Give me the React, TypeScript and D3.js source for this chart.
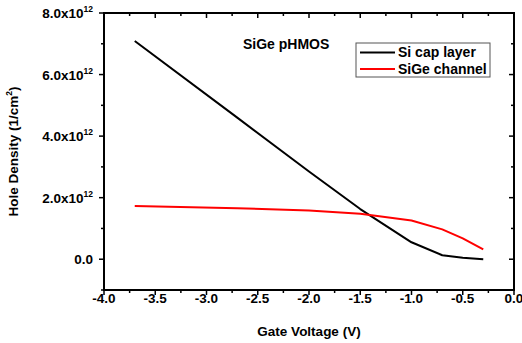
import React, { useEffect, useRef } from 'react';
import * as d3 from 'd3';

// gate voltage (V)
const voltage = [-3.7, -2.7, -2.0, -1.5, -1.0, -0.7, -0.5, -0.3];
// hole density, units of 1e12 /cm^2
const siCap = [7.09, 4.6, 2.85, 1.63, 0.55, 0.13, 0.05, 0.0];
const sigeChannel = [1.73, 1.66, 1.58, 1.48, 1.26, 0.97, 0.68, 0.32];

const xTicks = [-4.0, -3.5, -3.0, -2.5, -2.0, -1.5, -1.0, -0.5, 0.0];
const yTicks = [0, 2, 4, 6, 8];

const series = [
  { name: 'Si cap layer', color: '#000000', values: siCap },
  { name: 'SiGe channel', color: '#ff0000', values: sigeChannel },
];

const FONT = '"Liberation Sans", Arial, sans-serif';

const App = () => {
  const ref = useRef<SVGSVGElement>(null);

  useEffect(() => {
    const width = 522;
    const height = 343;
    const m = { left: 104, right: 8, top: 13, bottom: 53 };

    const svg = d3.select(ref.current);
    svg.selectAll('*').remove();
    svg.attr('width', width).attr('height', height);

    const x = d3.scaleLinear().domain([-4, 0]).range([m.left, width - m.right]);
    const y = d3.scaleLinear().domain([-1, 8]).range([height - m.bottom, m.top]);

    const [x0, x1] = x.range();
    const [y0, y1] = y.range();

    const g = svg.append('g');

    // ticks
    const minorX = d3.range(-4, 0.001, 0.25);
    const minorY = d3.range(-1, 8.001, 1);
    const tick = (ax: number, ay: number, bx: number, by: number) =>
      g.append('line')
        .attr('x1', ax).attr('y1', ay).attr('x2', bx).attr('y2', by)
        .attr('stroke', '#000').attr('stroke-width', 1.5);

    minorX.forEach(v => {
      const major = xTicks.some(t => Math.abs(t - v) < 1e-6);
      const len = major ? 5 : 3;
      tick(x(v), y0, x(v), y0 + len);
      tick(x(v), y1, x(v), y1 + len);
    });
    minorY.forEach(v => {
      const major = yTicks.includes(v);
      const len = major ? 5 : 3;
      tick(x0, y(v), x0 - len, y(v));
      tick(x1, y(v), x1 - len, y(v));
    });

    // frame
    g.append('rect')
      .attr('x', x0).attr('y', y1)
      .attr('width', x1 - x0).attr('height', y0 - y1)
      .attr('fill', 'none').attr('stroke', '#000').attr('stroke-width', 2);

    // x tick labels
    g.append('g')
      .selectAll('text')
      .data(xTicks)
      .join('text')
      .attr('x', d => x(d))
      .attr('y', y0 + 13)
      .attr('text-anchor', 'middle')
      .attr('font-family', FONT)
      .attr('font-weight', 700)
      .attr('font-size', 13.5)
      .text(d => d.toFixed(1));

    // y tick labels
    const yl = g.append('g')
      .selectAll('text')
      .data(yTicks)
      .join('text')
      .attr('x', x0 - 11)
      .attr('y', d => y(d) + 5)
      .attr('text-anchor', 'end')
      .attr('font-family', FONT)
      .attr('font-weight', 700)
      .attr('font-size', 13.5);
    yl.each(function (d) {
      const t = d3.select(this);
      if (d === 0) {
        t.text('0.0');
      } else {
        t.append('tspan').text(`${d.toFixed(1)}x10`);
        t.append('tspan').attr('dy', -6).attr('font-size', 8.5).text('12');
      }
    });

    // axis titles
    g.append('text')
      .attr('x', (x0 + x1) / 2)
      .attr('y', 336)
      .attr('text-anchor', 'middle')
      .attr('font-family', FONT)
      .attr('font-weight', 700)
      .attr('font-size', 13.5)
      .text('Gate Voltage (V)');

    const yt = g.append('text')
      .attr('transform', `translate(18, ${(y0 + y1) / 2}) rotate(-90)`)
      .attr('text-anchor', 'middle')
      .attr('font-family', FONT)
      .attr('font-weight', 700)
      .attr('font-size', 13.5);
    yt.append('tspan').text('Hole Density (1/cm');
    yt.append('tspan').attr('dy', -6).attr('font-size', 8.5).text('2');
    yt.append('tspan').attr('dy', 6).text(')');

    // lines
    const line = d3.line<number>()
      .x((_, i) => x(voltage[i]))
      .y(d => y(d));

    series.forEach(s => {
      g.append('path')
        .datum(s.values)
        .attr('d', line)
        .attr('fill', 'none')
        .attr('stroke', s.color)
        .attr('stroke-width', 2)
        .attr('stroke-linejoin', 'round');
    });

    // annotation
    g.append('text')
      .attr('x', 243)
      .attr('y', 49)
      .attr('font-family', FONT)
      .attr('font-weight', 700)
      .attr('font-size', 14)
      .text('SiGe pHMOS');

    // legend
    const lg = g.append('g').attr('transform', 'translate(356, 43)');
    lg.append('rect')
      .attr('width', 134).attr('height', 34)
      .attr('fill', '#fff').attr('stroke', '#555').attr('stroke-width', 1);
    const items = lg.selectAll('.legend-item')
      .data(series)
      .join('g')
      .attr('class', 'legend-item')
      .attr('transform', (d, i) => `translate(0, ${9.5 + i * 16.5})`);
    items.append('line')
      .attr('x1', 4).attr('x2', 39)
      .attr('stroke', d => d.color).attr('stroke-width', 2);
    items.append('text')
      .attr('x', 42)
      .attr('y', 4.5)
      .attr('font-family', FONT)
      .attr('font-weight', 700)
      .attr('font-size', 14)
      .text(d => d.name);
  }, []);

  return (
    <svg ref={ref} style={{ position: 'absolute', left: 0, top: 0, background: '#fff' }} />
  );
};

export default App;
